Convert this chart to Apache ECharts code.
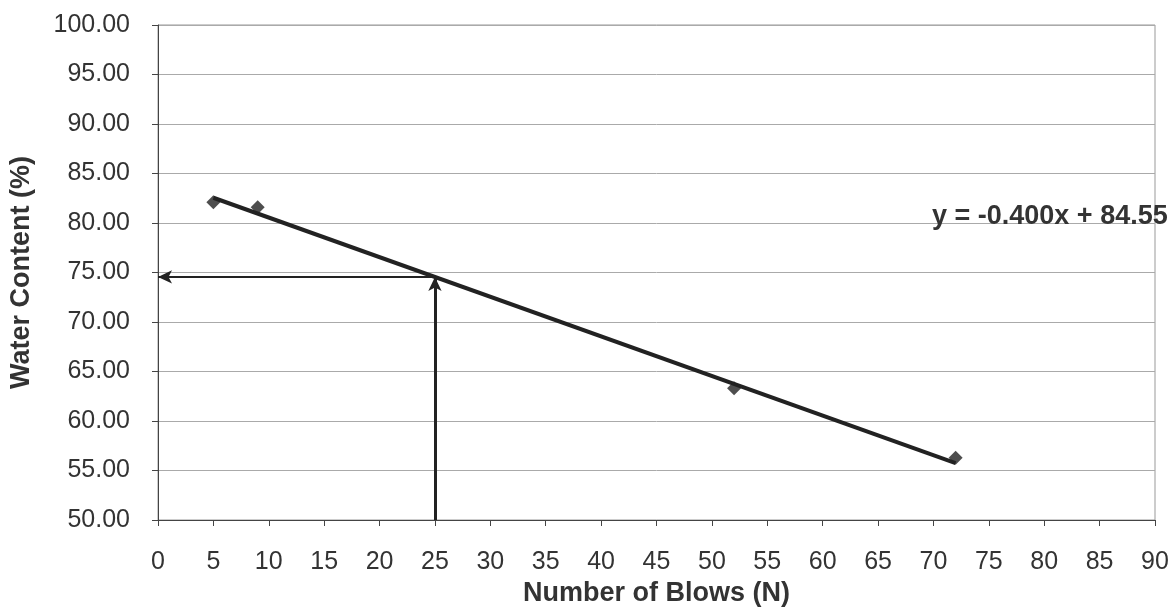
<!DOCTYPE html>
<html>
<head>
<meta charset="utf-8">
<script src="https://cdn.jsdelivr.net/npm/echarts@6/dist/echarts.min.js"></script>
<style>
  html, body { margin: 0; padding: 0; background: #fff; }
  #chart { width: 1176px; height: 608px; }
</style>
</head>
<body>
<div id="chart"></div>
<script>
// measured points (blows, water content)
const blows = [5, 9, 52, 72];
const waterContent = [82.1, 81.6, 63.3, 56.3];

// linear trendline, y = -0.400x + 84.55
const trendX = [5, 72];
const trendY = [82.55, 55.75];

// N = 25 read-off
const readX = 25;
const readY = 74.55;

const xTicks = { min: 0, max: 90, step: 5 };
const yTicks = { min: 50, max: 100, step: 5 };

const font = 'Liberation Sans, Arial, sans-serif';

const chart = echarts.init(document.getElementById('chart'));

chart.setOption({
  animation: false,
  backgroundColor: '#fff',
  grid: {
    left: 158, right: 21, top: 25, bottom: 88,
    show: true, borderColor: '#999', borderWidth: 1,
    outerBoundsMode: 'none'
  },
  xAxis: {
    type: 'value',
    min: xTicks.min, max: xTicks.max, interval: xTicks.step,
    name: 'Number of Blows (N)',
    nameLocation: 'middle',
    nameGap: 60,
    nameTextStyle: { fontFamily: font, fontSize: 27, fontWeight: 'bold', color: '#333' },
    axisLine: { lineStyle: { color: '#444', width: 1 } },
    axisTick: { show: true, length: 6, lineStyle: { color: '#444' } },
    axisLabel: { fontFamily: font, fontSize: 25, color: '#333', margin: 30 },
    splitLine: { show: false }
  },
  yAxis: {
    type: 'value',
    min: yTicks.min, max: yTicks.max, interval: yTicks.step,
    name: 'Water Content (%)',
    nameLocation: 'middle',
    nameGap: 123,
    nameTextStyle: { fontFamily: font, fontSize: 27, fontWeight: 'bold', color: '#333' },
    axisLine: { show: true, lineStyle: { color: '#444', width: 1 } },
    axisTick: { show: true, length: 6, lineStyle: { color: '#444' } },
    axisLabel: {
      fontFamily: font, fontSize: 25, color: '#333', margin: 28,
      formatter: v => v.toFixed(2)
    },
    splitLine: { show: true, lineStyle: { color: '#aaa', width: 1 } }
  },
  series: [
    {
      type: 'line',
      data: trendX.map((x, i) => [x, trendY[i]]),
      symbol: 'none',
      lineStyle: { color: '#222', width: 4 },
      z: 3,
      markLine: {
        silent: true,
        symbol: ['none', 'arrow'],
        symbolSize: [10, 14],
        label: { show: false },
        lineStyle: { color: '#222', width: 2, type: 'solid' },
        data: [
          [{ coord: [readX, yTicks.min], lineStyle: { width: 3 } }, { coord: [readX, readY] }],
          [{ coord: [readX, readY] }, { coord: [xTicks.min, readY] }]
        ]
      }
    },
    {
      type: 'scatter',
      data: blows.map((x, i) => [x, waterContent[i]]),
      symbol: 'diamond',
      symbolSize: 14,
      itemStyle: { color: '#222' },
      z: 4
    }
  ],
  graphic: [
    {
      type: 'text',
      left: 932,
      top: 203,
      style: {
        text: 'y = -0.400x + 84.55',
        font: 'bold 27px ' + font,
        fill: '#333'
      },
      z: 10
    }
  ]
});
</script>
</body>
</html>
